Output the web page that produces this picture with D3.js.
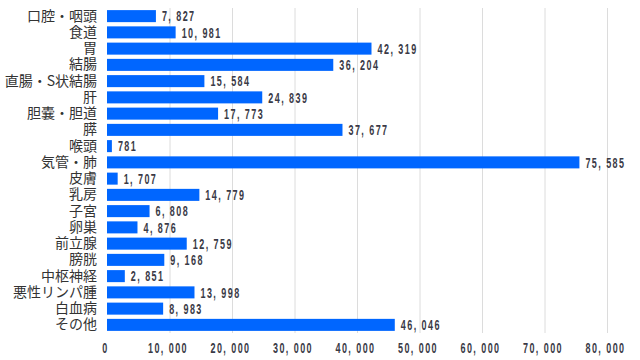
<!DOCTYPE html>
<html><head><meta charset="utf-8">
<script src="https://cdn.jsdelivr.net/npm/d3@7"></script>
<style>
body{margin:0;background:#fff;}
svg{display:block;}
</style></head>
<body>
<svg id="c" width="640" height="360"></svg>
<script>
const categories = ["口腔・咽頭","食道","胃","結腸","直腸・S状結腸","肝","胆嚢・胆道","膵","喉頭","気管・肺","皮膚","乳房","子宮","卵巣","前立腺","膀胱","中枢神経","悪性リンパ腫","白血病","その他"];
const values = [7827,10981,42319,36204,15584,24839,17773,37677,781,75585,1707,14779,6808,4876,12759,9168,2851,13998,8983,46046];
const ticks = [0,10000,20000,30000,40000,50000,60000,70000,80000];

const svg = d3.select("#c");
const m = {l:107, r:33, t:8, b:27};
const W = 640, H = 360;
const x = d3.scaleLinear().domain([0,80000]).range([m.l, W-m.r]);
const y = d3.scaleBand().domain(categories).range([m.t, H-m.b]).paddingInner(0.26).paddingOuter(0.13);
const numFmt = v => d3.format(",")(v).replace(/,/g, ", ");
const numFont = "'Liberation Sans',Arial,sans-serif";
const SX = 0.6;

// grid
svg.append("g").selectAll("line").data(ticks.slice(1)).join("line")
  .attr("x1", d=>x(d)+0.5).attr("x2", d=>x(d)+0.5)
  .attr("y1", m.t).attr("y2", H-m.b)
  .attr("stroke", "#dcdcdc").attr("stroke-width", 1);

// x axis
const xa = svg.append("g").attr("transform", `translate(0,${H-m.b})`)
  .call(d3.axisBottom(x).tickValues(ticks).tickSize(0).tickPadding(0).tickFormat(numFmt));
xa.select(".domain").remove();
xa.selectAll("text")
  .attr("font-family", numFont).attr("font-size", 15).attr("font-weight", "bold").attr("fill", "#3a3a46")
  .attr("letter-spacing", "2.4px")
  .attr("y", 0).attr("dy", null)
  .attr("transform", `translate(-2,20) scale(${SX},1)`);

// y axis
const ya = svg.append("g").attr("transform", `translate(${m.l-10},0)`)
  .call(d3.axisLeft(y).tickSize(0).tickPadding(0));
ya.select(".domain").remove();
ya.selectAll("text").attr("font-family", "'Noto Sans CJK JP',sans-serif").attr("font-size", 14).attr("fill", "#333");

// bars
const data = categories.map((c,i)=>({c, v: values[i]}));
svg.append("g").selectAll("rect").data(data).join("rect")
  .attr("x", x(0)).attr("y", d=>y(d.c))
  .attr("width", d=>x(d.v)-x(0)).attr("height", y.bandwidth())
  .attr("fill", "#0066ff");

// labels
svg.append("g").selectAll("text").data(data).join("text")
  .attr("transform", d=>`translate(${x(d.v)+6},${y(d.c)+y.bandwidth()/2+5.3}) scale(${SX},1)`)
  .attr("font-family", numFont).attr("font-size", 15).attr("font-weight", "bold").attr("fill", "#3a3a46")
  .attr("letter-spacing", "2.4px")
  .text(d=>numFmt(d.v));
</script>
</body></html>
